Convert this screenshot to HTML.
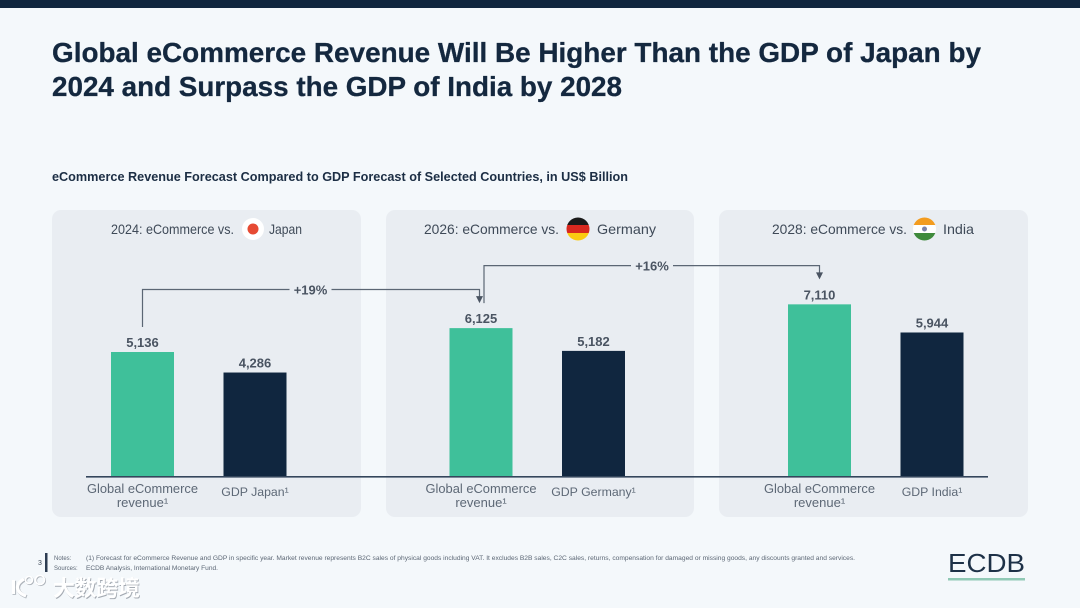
<!DOCTYPE html>
<html lang="en">
<head>
<meta charset="utf-8">
<title>Global eCommerce Revenue vs GDP</title>
<style>
html,body{margin:0;padding:0;background:#f4f8fb;width:1080px;height:608px;overflow:hidden}
svg{display:block}
text{font-family:"Liberation Sans","Noto Sans CJK SC",sans-serif}
.head{font-size:14px;fill:#3f4a58}
.cat{font-size:13px;fill:#5d6876}
.val{font-size:13px;font-weight:700;fill:#4a5462}
.note{font-size:6px;fill:#5b6674}
</style>
</head>
<body>
<svg id="chart" width="1080" height="608" viewBox="0 0 1080 608" xmlns="http://www.w3.org/2000/svg">
  <rect width="1080" height="608" fill="#f4f8fb"/>
  <rect width="1080" height="8" fill="#10263f"/>

  <text x="52" y="62" font-size="28" font-weight="700" fill="#14283f" stroke="#14283f" stroke-width="0.3" textLength="929" lengthAdjust="spacingAndGlyphs">Global eCommerce Revenue Will Be Higher Than the GDP of Japan by</text>
  <text x="52" y="96" font-size="28" font-weight="700" fill="#14283f" stroke="#14283f" stroke-width="0.3" textLength="570" lengthAdjust="spacingAndGlyphs">2024 and Surpass the GDP of India by 2028</text>
  <text x="52" y="181" font-size="13" font-weight="700" fill="#1c2e44" textLength="576" lengthAdjust="spacingAndGlyphs">eCommerce Revenue Forecast Compared to GDP Forecast of Selected Countries, in US$ Billion</text>

  <rect x="52" y="210" width="309" height="307" rx="9" fill="#e9edf2"/>
  <rect x="386" y="210" width="308" height="307" rx="9" fill="#e9edf2"/>
  <rect x="719" y="210" width="309" height="307" rx="9" fill="#e9edf2"/>

  <text class="head" x="111" y="234" textLength="123" lengthAdjust="spacingAndGlyphs">2024: eCommerce vs.</text>
  <circle cx="253" cy="229" r="11" fill="#ffffff"/>
  <circle cx="253" cy="229" r="5.5" fill="#e64a33"/>
  <text class="head" x="269" y="234" textLength="33" lengthAdjust="spacingAndGlyphs">Japan</text>

  <text class="head" x="424" y="234" textLength="135" lengthAdjust="spacingAndGlyphs">2026: eCommerce vs.</text>
  <g>
    <clipPath id="clip-de"><circle cx="578" cy="229" r="11.5"/></clipPath>
    <g clip-path="url(#clip-de)">
      <rect x="566" y="217" width="24" height="8" fill="#1a1a1a"/>
      <rect x="566" y="225" width="24" height="8" fill="#d8281f"/>
      <rect x="566" y="233" width="24" height="9" fill="#fbcb12"/>
    </g>
  </g>
  <text class="head" x="597" y="234" textLength="59" lengthAdjust="spacingAndGlyphs">Germany</text>

  <text class="head" x="772" y="234" textLength="135" lengthAdjust="spacingAndGlyphs">2028: eCommerce vs.</text>
  <g>
    <clipPath id="clip-in"><circle cx="924.5" cy="229" r="11.5"/></clipPath>
    <g clip-path="url(#clip-in)">
      <rect x="912" y="217" width="25" height="8" fill="#f39c1f"/>
      <rect x="912" y="225" width="25" height="8" fill="#ffffff"/>
      <rect x="912" y="233" width="25" height="9" fill="#3f8a3c"/>
    </g>
    <circle cx="924.5" cy="229" r="2.5" fill="#7d83a8"/>
  </g>
  <text class="head" x="943" y="234" textLength="31" lengthAdjust="spacingAndGlyphs">India</text>

  <g id="marks"></g>

  <text x="40" y="565" font-size="7" fill="#3a4656" text-anchor="middle">3</text>
  <rect x="45" y="553" width="2.5" height="19" fill="#2d3d52"/>
  <text class="note" x="54" y="560">Notes:</text>
  <text class="note" x="86" y="560" textLength="769" lengthAdjust="spacingAndGlyphs">(1) Forecast for eCommerce Revenue and GDP in specific year. Market revenue represents B2C sales of physical goods including VAT. It excludes B2B sales, C2C sales, returns, compensation for damaged or missing goods, any discounts granted and services.</text>
  <text class="note" x="54" y="570">Sources:</text>
  <text class="note" x="86" y="570" textLength="132" lengthAdjust="spacingAndGlyphs">ECDB Analysis, International Monetary Fund.</text>

  <text x="948" y="572" font-size="26" fill="#1d3147" textLength="77" lengthAdjust="spacingAndGlyphs">ECDB</text>
  <rect x="948" y="578" width="77" height="2.5" fill="#90c9b5"/>

  <g>
    <g fill="none" stroke="#aeb4bb" stroke-width="3.6" transform="translate(0.8,0.8)">
      <path d="M13.5 580V594"/><path d="M24 579C15 584 15 592 26 596"/><circle cx="29" cy="580" r="3.5" stroke-width="1.6"/><circle cx="40" cy="580" r="4.5" stroke-width="1.6"/>
    </g>
    <g fill="none" stroke="#ffffff" stroke-width="3.2">
      <path d="M13.5 580V594"/><path d="M24 579C15 584 15 592 26 596"/><circle cx="29" cy="580" r="3.5" stroke-width="1.6"/><circle cx="40" cy="580" r="4.5" stroke-width="1.6"/>
    </g>
    <text x="53.8" y="596.8" font-size="22" font-weight="700" fill="#a4aab2" textLength="87">大数跨境</text>
    <text x="53" y="596" font-size="22" font-weight="700" fill="#ffffff" textLength="87">大数跨境</text>
  </g>
</svg>

<script>
const years = ['2024', '2026', '2028'];
const ecommerceValues = [5136, 6125, 7110];
const gdpValues = [4286, 5182, 5944];
const gdpCategories = ['GDP Japan', 'GDP Germany', 'GDP India'];
const growthLabels = ['+19%', '+16%'];

const NS = 'http://www.w3.org/2000/svg';
const marks = document.getElementById('marks');
const baseline = 476;
const pxPerUnit = 124 / 5136;
const panelStart = [142.5, 481, 819.5];
const barGap = 112.5;
const barWidth = 63;
const yScale = function (v) { return baseline - v * pxPerUnit; };
const fmt = function (v) { return v.toLocaleString('en-US'); };

function svgEl(tag, attrs, text) {
  const el = document.createElementNS(NS, tag);
  Object.keys(attrs).forEach(function (k) { el.setAttribute(k, attrs[k]); });
  if (text !== undefined) el.textContent = text;
  marks.appendChild(el);
  return el;
}

years.forEach(function (year, i) {
  const cxA = panelStart[i];
  const cxB = cxA + barGap;

  const barA = svgEl('rect', { x: cxA - barWidth / 2, y: yScale(ecommerceValues[i]), width: barWidth, height: baseline - yScale(ecommerceValues[i]), fill: '#3fc09a' });
  
  

  const barB = svgEl('rect', { x: cxB - barWidth / 2, y: yScale(gdpValues[i]), width: barWidth, height: baseline - yScale(gdpValues[i]), fill: '#10263f' });
  
  

  const valA = svgEl('text', { class: 'val', x: cxA, y: yScale(ecommerceValues[i]) - 5, 'text-anchor': 'middle' }, fmt(ecommerceValues[i]));
  
  

  const valB = svgEl('text', { class: 'val', x: cxB, y: yScale(gdpValues[i]) - 5, 'text-anchor': 'middle' }, fmt(gdpValues[i]));
  
  

  const catA1 = svgEl('text', { class: 'cat', x: cxA, y: 493, 'text-anchor': 'middle', textLength: 111, lengthAdjust: 'spacingAndGlyphs' }, 'Global eCommerce');
  
  

  const catA2 = svgEl('text', { class: 'cat', x: cxA, y: 507, 'text-anchor': 'middle', 'font-size': 12.5 }, 'revenue\u00B9');
  
  

  const catB = svgEl('text', { class: 'cat', x: cxB, y: 496, 'text-anchor': 'middle', style: 'font-size:12.3px' }, gdpCategories[i] + '\u00B9');
  
  
});

const axis = svgEl('rect', { x: 86, y: 476, width: 902, height: 1.6, fill: '#34465c' });



growthLabels.forEach(function (label, i) {
  const fromX = panelStart[i] + (i === 0 ? 0 : 3);
  const toX = panelStart[i + 1] - (i === 0 ? 1.5 : 0);
  const startY = yScale(ecommerceValues[i]) - 25;
  const endY = yScale(ecommerceValues[i + 1]) - 31;
  const topY = yScale(ecommerceValues[i]) - 62.5;
  const midX = i === 0 ? 310.5 : 652;

  const line = svgEl('path', { d: 'M' + fromX + ' ' + startY + 'V' + topY + 'H' + (midX - 21) + 'M' + (midX + 21) + ' ' + topY + 'H' + toX + 'V' + endY, fill: 'none', stroke: '#5b6674', 'stroke-width': 1.2 });
  
  

  const tip = yScale(ecommerceValues[i + 1]) - 25;
  const arrow = svgEl('path', { d: 'M' + (toX - 3.5) + ' ' + (tip - 7) + 'H' + (toX + 3.5) + 'L' + toX + ' ' + tip + 'Z', fill: '#4a5462' });
  
  

  const txt = svgEl('text', { class: 'val', x: midX, y: topY + 5, 'text-anchor': 'middle' }, label);
  
  
});
</script>
</body>
</html>
